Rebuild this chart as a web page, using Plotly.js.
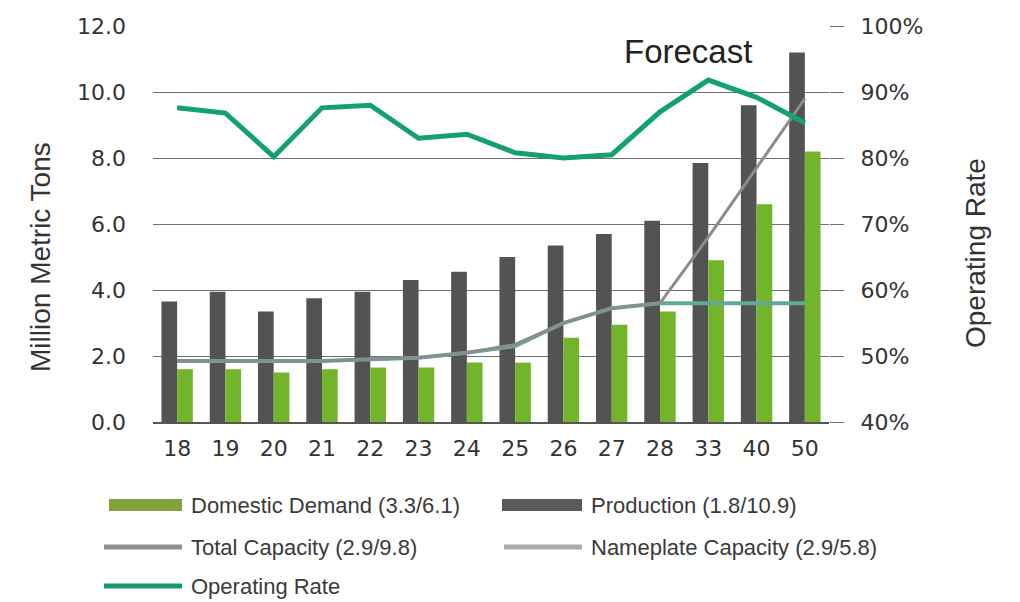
<!DOCTYPE html>
<html>
<head>
<meta charset="utf-8">
<script src="https://cdn.plot.ly/plotly-3.0.1.min.js"></script>
<style>
  html, body { margin: 0; padding: 0; background: #ffffff; }
  #chart { width: 1020px; height: 602px; }
</style>
</head>
<body>
<div id="chart"></div>
<script>
// Years (two-digit) shown along the category axis
const years = ['18', '19', '20', '21', '22', '23', '24', '25', '26', '27', '28', '33', '40', '50'];

// Million metric tons
const production       = [3.65, 3.95, 3.35, 3.75, 3.95, 4.3, 4.55, 5.0, 5.35, 5.7, 6.1, 7.85, 9.6, 11.2];
const domesticDemand   = [1.6, 1.6, 1.5, 1.6, 1.65, 1.65, 1.8, 1.8, 2.55, 2.95, 3.35, 4.9, 6.6, 8.2];
const totalCapacity    = [1.85, 1.85, 1.85, 1.85, 1.9, 1.95, 2.1, 2.35, 3.0, 3.45, 3.6, 5.6, 7.7, 9.8];
const nameplateCapacity = [1.85, 1.85, 1.85, 1.85, 1.9, 1.95, 2.1, 2.3, 3.0, 3.45, 3.6, 3.6, 3.6, 3.6];

// Operating rate, percent
const operatingRate = [87.6, 86.8, 80.2, 87.6, 88.0, 83.0, 83.6, 80.8, 80.0, 80.5, 87.0, 91.8, 89.2, 85.3];

// Series labels for the key below the chart
const seriesNames = [
  'Domestic Demand (3.3/6.1)',
  'Production (1.8/10.9)',
  'Total Capacity (2.9/9.8)',
  'Nameplate Capacity (2.9/5.8)',
  'Operating Rate'
];

// Axis tick values and labels
const leftTicks = [0, 2, 4, 6, 8, 10, 12];
const leftTickText = ['0.0', '2.0', '4.0', '6.0', '8.0', '10.0', '12.0'];
const rightTicks = [40, 50, 60, 70, 80, 90, 100];
const rightTickText = ['40%', '50%', '60%', '70%', '80%', '90%', '100%'];

const C = {
  production: '#535353',
  demand: '#72b52b',
  total: '#8c8c8c',
  nameplate: '#63a99b',
  rate: '#14a077',
  grid: '#6e6e6e',
  text: '#333333'
};

const FIG_W = 1020, FIG_H = 602;
const M = { l: 153, r: 191, t: 26, b: 180 };
const W = FIG_W - M.l - M.r;
const H = FIG_H - M.t - M.b;
const px = x => (x - M.l) / W;
const py = y => (M.t + H - y) / H;

const tickFont = { family: 'DejaVu Sans, Arial, sans-serif', size: 22, color: C.text };
const labelFont = { family: 'Liberation Sans, Arial, sans-serif', size: 22, color: '#3a3a3a' };

const traces = [
  {
    type: 'bar', x: years, y: production, name: seriesNames[1],
    marker: { color: C.production, line: { width: 0 } },
    showlegend: false, hoverinfo: 'x+y'
  },
  {
    type: 'bar', x: years, y: domesticDemand, name: seriesNames[0],
    marker: { color: C.demand, line: { width: 0 } },
    showlegend: false, hoverinfo: 'x+y'
  },
  {
    type: 'scatter', mode: 'lines', x: years, y: nameplateCapacity, name: seriesNames[3],
    line: { color: C.nameplate, width: 4 }, showlegend: false
  },
  {
    type: 'scatter', mode: 'lines', x: years, y: totalCapacity, name: seriesNames[2],
    line: { color: C.total, width: 3 }, showlegend: false
  },
  {
    type: 'scatter', mode: 'lines', x: years, y: operatingRate, name: seriesNames[4],
    yaxis: 'y2', line: { color: C.rate, width: 5, shape: 'linear' }, showlegend: false
  }
];

// Key below the plot: swatch + label per series
const keyRows = [505, 547, 586];
const keyItems = [
  { name: seriesNames[0], row: 0, x0: 109, x1: 182, tx: 189, kind: 'rect', color: '#84a23a' },
  { name: seriesNames[1], row: 0, x0: 502, x1: 582, tx: 589, kind: 'rect', color: '#5a5a5a' },
  { name: seriesNames[2], row: 1, x0: 104, x1: 182, tx: 189, kind: 'line', color: '#8f8f8f' },
  { name: seriesNames[3], row: 1, x0: 504, x1: 582, tx: 589, kind: 'line', color: '#ababab' },
  { name: seriesNames[4], row: 2, x0: 104, x1: 182, tx: 189, kind: 'line', color: '#17956f' }
];

const shapes = [];
const annotations = [];
keyItems.forEach(k => {
  const yc = keyRows[k.row];
  if (k.kind === 'rect') {
    shapes.push({
      type: 'rect', xref: 'paper', yref: 'paper',
      x0: px(k.x0), x1: px(k.x1), y0: py(yc + 6), y1: py(yc - 6),
      fillcolor: k.color, line: { width: 0 }
    });
  } else {
    shapes.push({
      type: 'line', xref: 'paper', yref: 'paper',
      x0: px(k.x0), x1: px(k.x1), y0: py(yc), y1: py(yc),
      line: { color: k.color, width: 5 }
    });
  }
  annotations.push({
    xref: 'paper', yref: 'paper', x: px(k.tx), y: py(yc),
    xanchor: 'left', yanchor: 'middle', showarrow: false,
    text: k.name, font: labelFont
  });
});

// Axis titles and the forecast marker text
annotations.push({
  xref: 'paper', yref: 'paper', x: px(40), y: py(257),
  xanchor: 'center', yanchor: 'middle', showarrow: false, textangle: -90,
  text: 'Million Metric Tons',
  font: { family: 'Liberation Sans, Arial, sans-serif', size: 28, color: C.text }
});
annotations.push({
  xref: 'paper', yref: 'paper', x: px(975), y: py(253),
  xanchor: 'center', yanchor: 'middle', showarrow: false, textangle: -90,
  text: 'Operating Rate',
  font: { family: 'Liberation Sans, Arial, sans-serif', size: 28, color: C.text }
});
annotations.push({
  xref: 'paper', yref: 'paper', x: px(688), y: py(52),
  xanchor: 'center', yanchor: 'middle', showarrow: false,
  text: 'Forecast',
  font: { family: 'Liberation Sans, Arial, sans-serif', size: 33, color: '#222222' }
});

const layout = {
  width: FIG_W, height: FIG_H,
  margin: M,
  paper_bgcolor: '#ffffff', plot_bgcolor: '#ffffff',
  barmode: 'group', bargap: 0.35, bargroupgap: 0,
  showlegend: false,
  xaxis: {
    type: 'category',
    showgrid: false, zeroline: false,
    showline: true, linecolor: '#555555', linewidth: 2,
    ticks: '', tickfont: tickFont, ticklabelstandoff: 6,
    fixedrange: true
  },
  yaxis: {
    range: [0, 12], tickmode: 'array', tickvals: leftTicks, ticktext: leftTickText,
    showgrid: true, gridcolor: C.grid, gridwidth: 1,
    zeroline: false, showline: false, ticks: '',
    tickfont: tickFont, ticklabelstandoff: 26,
    fixedrange: true
  },
  yaxis2: {
    overlaying: 'y', side: 'right',
    range: [40, 100], tickmode: 'array', tickvals: rightTicks, ticktext: rightTickText,
    showgrid: false, zeroline: false, showline: false,
    ticks: 'outside', ticklen: 14, tickcolor: C.grid, tickwidth: 1,
    tickfont: tickFont, ticklabelstandoff: 12,
    fixedrange: true
  },
  shapes: shapes,
  annotations: annotations
};

Plotly.newPlot('chart', traces, layout, { displayModeBar: false, staticPlot: true });
</script>
</body>
</html>
